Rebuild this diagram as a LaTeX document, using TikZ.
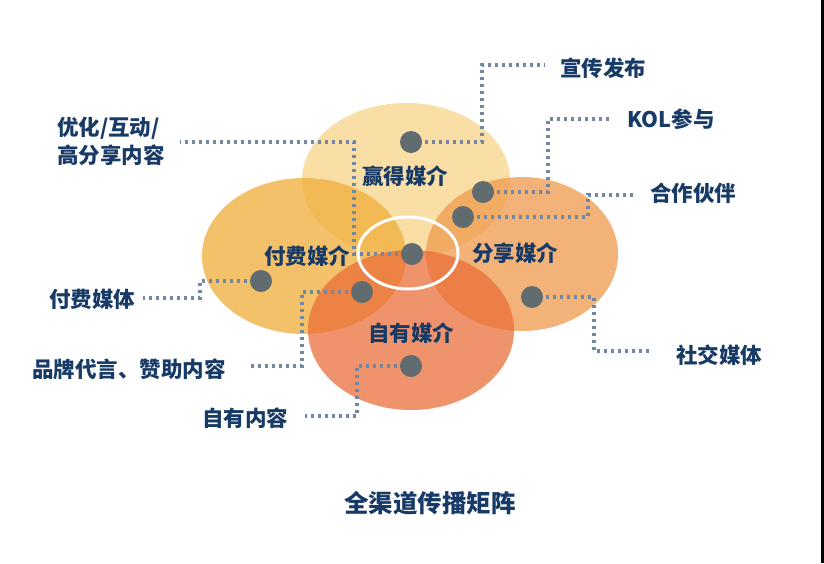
\documentclass[tikz,border=0pt]{standalone}
\usepackage{fontspec}
\newfontfamily\cjk{Noto Sans CJK SC}
\definecolor{txt}{HTML}{173A66}
\definecolor{dotc}{HTML}{606C70}
\definecolor{linec}{HTML}{7487A0}
\definecolor{ctop}{HTML}{F5C96A}
\definecolor{cleft}{HTML}{F0AD39}
\definecolor{cright}{HTML}{EF9A4C}
\definecolor{cbot}{HTML}{EA6A35}
\tikzset{
  lbl/.style={text=txt, font=\cjk\bfseries\fontsize{21.5}{26}\selectfont, inner sep=0pt},
  hub/.style={circle, fill=dotc, minimum size=22pt, inner sep=0pt},
  conn/.style={draw=linec, line width=3.6pt, dash pattern=on 3.4pt off 3.6pt},
  petal/.style={opacity=0.75},
}
\begin{document}
\begin{tikzpicture}[x=1pt,y=-1pt]
\useasboundingbox (0,0) rectangle (824,563);
\fill[white] (0,0) rectangle (824,563);
\fill[black] (821,0) rectangle (824,563);
% petals
\fill[ctop, opacity=0.6] (406,180) ellipse [x radius=104, y radius=77];
\fill[cleft, petal] (304,256) ellipse [x radius=102, y radius=78];
\fill[cright, petal] (522,254) ellipse [x radius=96, y radius=77];
\fill[cbot, opacity=0.72] (411,330) ellipse [x radius=103, y radius=80];
\draw[white, line width=3pt] (408,253) ellipse [x radius=50, y radius=36];
% hub coordinates
\coordinate (dTop) at (411,142);
\coordinate (dCen) at (412,254);
\coordinate (dR1) at (483,192);
\coordinate (dR2) at (463,217);
\coordinate (dL) at (261,281);
\coordinate (dML) at (362,292);
\coordinate (dB) at (411,366);
\coordinate (dRL) at (532,297);
% connector ends
\coordinate (e1) at (545,65);
\coordinate (e2) at (610,119);
\coordinate (e3) at (635,195);
\coordinate (e4) at (652,351);
\coordinate (e5) at (180,142);
\coordinate (e6) at (143,298);
\coordinate (e7) at (250,366);
\coordinate (e8) at (305,416);
% connectors
\draw[conn] (dTop) -| (482,65) -- (e1);
\draw[conn] (dR1) -| (548,119) -- (e2);
\draw[conn] (dR2) -| (588,195) -- (e3);
\draw[conn] (dRL) -| (594,351) -- (e4);
\draw[conn] (dCen) -| (354,142) -- (e5);
\draw[conn] (dL) -| (200,298) -- (e6);
\draw[conn] (dML) -| (302,366) -- (e7);
\draw[conn] (dB) -| (357,416) -- (e8);
% dots
\foreach \p in {dTop,dCen,dR1,dR2,dL,dML,dB,dRL}
  \node[hub] at (\p) {};
% petal labels
\node[lbl] (nWin) at (405,176) {赢得媒介};
\node[lbl] (nPay) at (307,256) {付费媒介};
\node[lbl] (nShare) at (515,253) {分享媒介};
\node[lbl] (nOwn) at (411,333) {自有媒介};
% outer labels
\node[lbl] (t1) at (603,68) {宣传发布};
\node[lbl] (t2) at (671,119) {KOL参与};
\node[lbl] (t3) at (693,193) {合作伙伴};
\node[lbl] (t4) at (719,355) {社交媒体};
\node[lbl, anchor=west] (t5a) at (57,128) {优化/互动/};
\node[lbl, anchor=west] (t5b) at (57,155) {高分享内容};
\node[lbl] (t6) at (92,299) {付费媒体};
\node[lbl] (t7) at (129,369) {品牌代言、赞助内容};
\node[lbl] (t8) at (245,418) {自有内容};
\node[lbl, font=\cjk\bfseries\fontsize{24.5}{28}\selectfont] (title) at (430,503) {全渠道传播矩阵};
\end{tikzpicture}
\end{document}
